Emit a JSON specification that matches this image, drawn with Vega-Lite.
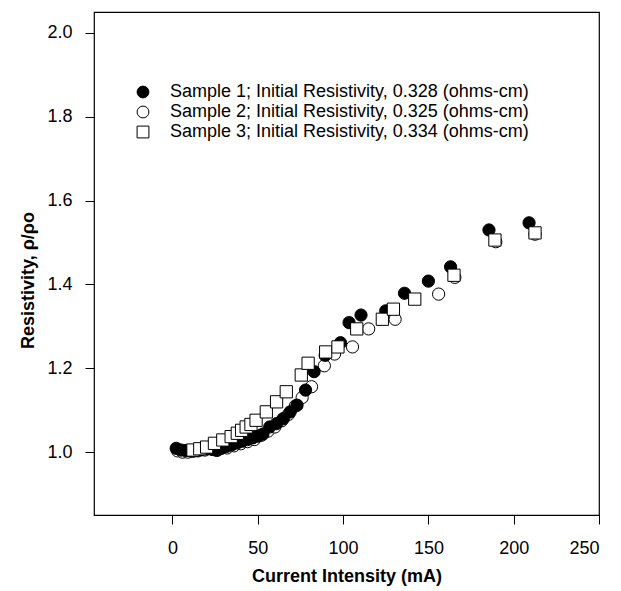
{
  "$schema": "https://vega.github.io/schema/vega-lite/v6.json",
  "width": 505,
  "height": 503,
  "autosize": {"type": "none"},
  "padding": {"left": 94, "top": 12, "right": 22, "bottom": 76},
  "background": "white",
  "config": {
    "font": "Liberation Sans",
    "view": {"stroke": "black", "strokeWidth": 1.2},
    "axis": {"grid": false, "domain": false, "tickColor": "black", "tickSize": 9, "labelColor": "black", "labelFontSize": 18, "titleColor": "black", "titleFontSize": 18, "titleFontWeight": "bold", "labelFont": "Liberation Sans", "titleFont": "Liberation Sans"},
    "legend": {"orient": "none", "legendX": 40, "legendY": 71, "title": null, "labelFontSize": 18, "labelColor": "black", "labelFont": "Liberation Sans", "symbolSize": 140, "symbolStrokeWidth": 1, "rowPadding": 2, "labelOffset": 18, "labelLimit": 500}
  },
  "data": {
    "values": [
      {"s": "2", "x": 3, "y": 1.003}, {"s": "2", "x": 6, "y": 1.0}, {"s": "2", "x": 9, "y": 1.0}, {"s": "2", "x": 12, "y": 1.002}, {"s": "2", "x": 15, "y": 1.003}, {"s": "2", "x": 19, "y": 1.005}, {"s": "2", "x": 24, "y": 1.006}, {"s": "2", "x": 28, "y": 1.008}, {"s": "2", "x": 32, "y": 1.01}, {"s": "2", "x": 36, "y": 1.015}, {"s": "2", "x": 40, "y": 1.02}, {"s": "2", "x": 44, "y": 1.025}, {"s": "2", "x": 48, "y": 1.03}, {"s": "2", "x": 52, "y": 1.04}, {"s": "2", "x": 56, "y": 1.05}, {"s": "2", "x": 60, "y": 1.06}, {"s": "2", "x": 64, "y": 1.075}, {"s": "2", "x": 68, "y": 1.09}, {"s": "2", "x": 72, "y": 1.11}, {"s": "2", "x": 76, "y": 1.13}, {"s": "2", "x": 81.5, "y": 1.156}, {"s": "2", "x": 89, "y": 1.206}, {"s": "2", "x": 95, "y": 1.234}, {"s": "2", "x": 105.5, "y": 1.251}, {"s": "2", "x": 115, "y": 1.294}, {"s": "2", "x": 130.5, "y": 1.317}, {"s": "2", "x": 156, "y": 1.377}, {"s": "2", "x": 165.5, "y": 1.417}, {"s": "2", "x": 189.5, "y": 1.502}, {"s": "2", "x": 212.5, "y": 1.52},
      {"s": "1", "x": 2.2, "y": 1.009}, {"s": "1", "x": 5, "y": 1.005}, {"s": "1", "x": 8, "y": 1.004}, {"s": "1", "x": 11, "y": 1.003}, {"s": "1", "x": 14, "y": 1.004}, {"s": "1", "x": 17, "y": 1.006}, {"s": "1", "x": 20, "y": 1.008}, {"s": "1", "x": 23, "y": 1.007}, {"s": "1", "x": 26, "y": 1.004}, {"s": "1", "x": 29, "y": 1.01}, {"s": "1", "x": 32, "y": 1.014}, {"s": "1", "x": 35, "y": 1.018}, {"s": "1", "x": 38, "y": 1.022}, {"s": "1", "x": 41, "y": 1.026}, {"s": "1", "x": 44, "y": 1.03}, {"s": "1", "x": 47, "y": 1.034}, {"s": "1", "x": 50, "y": 1.038}, {"s": "1", "x": 53, "y": 1.043}, {"s": "1", "x": 57, "y": 1.06}, {"s": "1", "x": 61, "y": 1.068}, {"s": "1", "x": 65, "y": 1.08}, {"s": "1", "x": 69, "y": 1.096}, {"s": "1", "x": 73, "y": 1.112}, {"s": "1", "x": 78, "y": 1.148}, {"s": "1", "x": 83, "y": 1.192}, {"s": "1", "x": 89.5, "y": 1.231}, {"s": "1", "x": 98.5, "y": 1.261}, {"s": "1", "x": 103.5, "y": 1.309}, {"s": "1", "x": 110.5, "y": 1.327}, {"s": "1", "x": 125, "y": 1.337}, {"s": "1", "x": 136, "y": 1.379}, {"s": "1", "x": 150, "y": 1.408}, {"s": "1", "x": 163, "y": 1.442}, {"s": "1", "x": 185.5, "y": 1.53}, {"s": "1", "x": 209, "y": 1.547},
      {"s": "3", "x": 12, "y": 1.005}, {"s": "3", "x": 16, "y": 1.008}, {"s": "3", "x": 20, "y": 1.012}, {"s": "3", "x": 24.6, "y": 1.021}, {"s": "3", "x": 29.5, "y": 1.029}, {"s": "3", "x": 34.4, "y": 1.037}, {"s": "3", "x": 38, "y": 1.045}, {"s": "3", "x": 40.5, "y": 1.052}, {"s": "3", "x": 43.2, "y": 1.06}, {"s": "3", "x": 46, "y": 1.066}, {"s": "3", "x": 49, "y": 1.076}, {"s": "3", "x": 55, "y": 1.096}, {"s": "3", "x": 61, "y": 1.12}, {"s": "3", "x": 66.7, "y": 1.144}, {"s": "3", "x": 75.5, "y": 1.184}, {"s": "3", "x": 79.5, "y": 1.212}, {"s": "3", "x": 89.8, "y": 1.239}, {"s": "3", "x": 97, "y": 1.251}, {"s": "3", "x": 108, "y": 1.294}, {"s": "3", "x": 123, "y": 1.317}, {"s": "3", "x": 129.5, "y": 1.341}, {"s": "3", "x": 142, "y": 1.365}, {"s": "3", "x": 165, "y": 1.422}, {"s": "3", "x": 189, "y": 1.506}, {"s": "3", "x": 212.5, "y": 1.523}
    ]
  },
  "mark": {"type": "point", "filled": false, "strokeWidth": 1, "size": 150, "opacity": 1},
  "encoding": {
    "x": {"field": "x", "type": "quantitative", "scale": {"domain": [-46, 250], "nice": false, "zero": false}, "axis": {"values": [0, 50, 100, 150, 200, 250], "title": "Current Intensity (mA)", "labelPadding": 15, "titlePadding": 10}},
    "y": {"field": "y", "type": "quantitative", "scale": {"domain": [0.85, 2.05], "nice": false, "zero": false}, "axis": {"values": [1.0, 1.2, 1.4, 1.6, 1.8, 2.0], "format": ".1f", "title": "Resistivity, ρ/ρo", "labelPadding": 13, "titlePadding": 9, "titleY": 268}},
    "shape": {"field": "s", "type": "nominal", "scale": {"domain": ["1", "2", "3"], "range": ["circle", "circle", "square"]}, "legend": {"labelExpr": "datum.value == '1' ? 'Sample 1; Initial Resistivity, 0.328 (ohms-cm)' : datum.value == '2' ? 'Sample 2; Initial Resistivity, 0.325 (ohms-cm)' : 'Sample 3; Initial Resistivity, 0.334 (ohms-cm)'"}},
    "fill": {"field": "s", "type": "nominal", "scale": {"domain": ["1", "2", "3"], "range": ["black", "white", "white"]}, "legend": {"labelExpr": "datum.value == '1' ? 'Sample 1; Initial Resistivity, 0.328 (ohms-cm)' : datum.value == '2' ? 'Sample 2; Initial Resistivity, 0.325 (ohms-cm)' : 'Sample 3; Initial Resistivity, 0.334 (ohms-cm)'"}},
    "stroke": {"field": "s", "type": "nominal", "scale": {"domain": ["1", "2", "3"], "range": ["black", "black", "black"]}, "legend": {"labelExpr": "datum.value == '1' ? 'Sample 1; Initial Resistivity, 0.328 (ohms-cm)' : datum.value == '2' ? 'Sample 2; Initial Resistivity, 0.325 (ohms-cm)' : 'Sample 3; Initial Resistivity, 0.334 (ohms-cm)'"}}
  }
}
